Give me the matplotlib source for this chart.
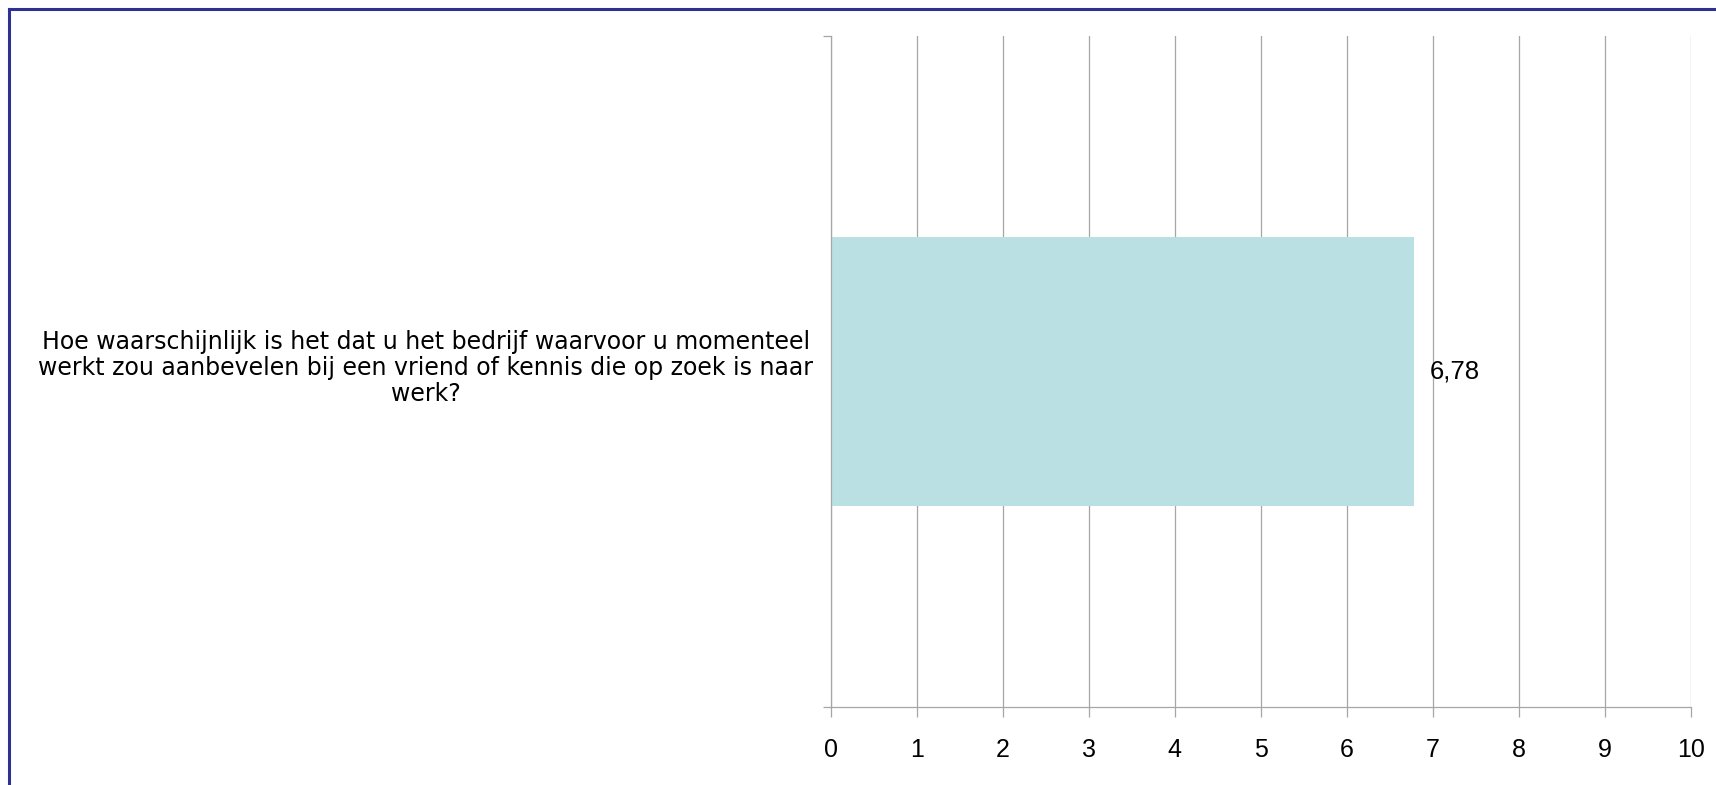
import matplotlib
matplotlib.use("Agg")
import matplotlib.pyplot as plt
from matplotlib.lines import Line2D

# data
categories = ["Hoe waarschijnlijk is het dat u het bedrijf waarvoor u momenteel\n"
              "werkt zou aanbevelen bij een vriend of kennis die op zoek is naar\n"
              "werk?"]
values = [6.78]
value_labels = ["6,78"]
x_ticks = [0, 1, 2, 3, 4, 5, 6, 7, 8, 9, 10]

plt.rcParams['font.family'] = ['Liberation Sans', 'DejaVu Sans']

fig = plt.figure(figsize=(17.16, 7.85), dpi=100)
ax = fig.add_axes([0.4841, 0.0994, 0.5012, 0.8547])

grey = '#A6A6A6'

# balken
ax.barh(range(len(categories)), values, height=0.4, color='#BBE0E3', zorder=2)
for i, (v, lab) in enumerate(zip(values, value_labels)):
    ax.text(v + 0.18, i, lab, va='center', ha='left', fontsize=18.5, zorder=3)

ax.set_xlim(0, 10)
ax.set_ylim(-0.5, len(categories) - 0.5)

# x-as
ax.set_xticks(x_ticks)
ax.set_xticklabels([str(t) for t in x_ticks], fontsize=18)
ax.tick_params(axis='x', length=7.2, width=0.9, color=grey, pad=15)
ax.grid(axis='x', color=grey, linewidth=0.9, zorder=1)

# y-as: label als tekst, streepjes op de grenzen
ax.set_yticks([])
ax.set_yticks([-0.5, 0.5], minor=True)
ax.tick_params(axis='y', which='minor', length=6, width=0.9, color=grey)
for i, cat in enumerate(categories):
    ax.text(-0.4706, i + 0.005, cat, transform=ax.get_yaxis_transform(),
            ha='center', va='center', multialignment='center',
            fontsize=17, family='DejaVu Sans', linespacing=1.1)

for s in ['top', 'right']:
    ax.spines[s].set_visible(False)
for s in ['left', 'bottom']:
    ax.spines[s].set_color(grey)
    ax.spines[s].set_linewidth(0.9)

# blauwe rand linksboven
fig.add_artist(Line2D([8.5 / 1716, 8.5 / 1716], [0, 1 - 9 / 785],
                      transform=fig.transFigure, color='#2E3192', linewidth=2.2))
fig.add_artist(Line2D([8.5 / 1716, 1], [1 - 9 / 785, 1 - 9 / 785],
                      transform=fig.transFigure, color='#2E3192', linewidth=2.2))

plt.savefig("out.png", dpi=100)
